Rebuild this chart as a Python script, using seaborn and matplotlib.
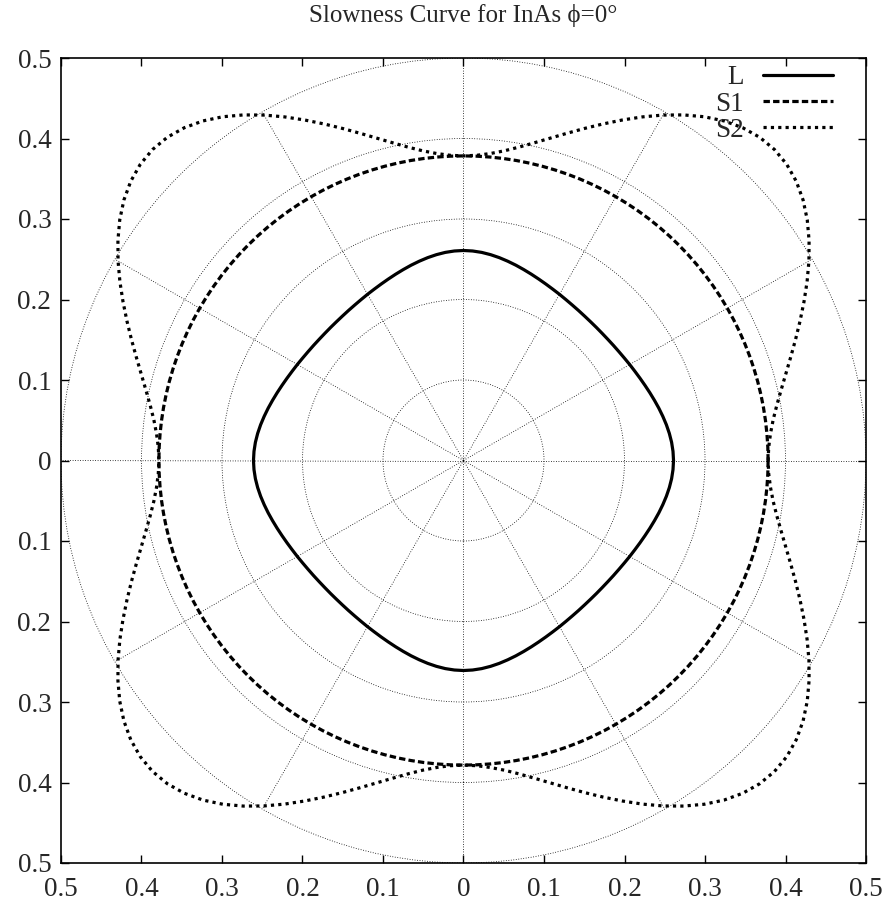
import numpy as np
import pandas as pd
import matplotlib
matplotlib.use("Agg")
import matplotlib.pyplot as plt
from matplotlib.patches import Circle
import seaborn as sns

# Propagation angle in the (001) plane over one octant, degrees
angle_deg = [0.0, 2.5, 5.0, 7.5, 10.0, 12.5, 15.0, 17.5, 20.0, 22.5,
             25.0, 27.5, 30.0, 32.5, 35.0, 37.5, 40.0, 42.5, 45.0]

# Slowness (s/km) of each mode over that octant
slowness_L = [0.2609, 0.2605, 0.2595, 0.2579, 0.2559, 0.2536, 0.2512,
              0.2487, 0.2463, 0.2440, 0.2419, 0.2400, 0.2384, 0.2369,
              0.2357, 0.2348, 0.2341, 0.2337, 0.2336]
slowness_S1 = [0.3784, 0.3784, 0.3784, 0.3784, 0.3784, 0.3784, 0.3784,
               0.3784, 0.3784, 0.3784, 0.3784, 0.3784, 0.3784, 0.3784,
               0.3784, 0.3784, 0.3784, 0.3784, 0.3784]
slowness_S2 = [0.3784, 0.3795, 0.3828, 0.3880, 0.3952, 0.4041, 0.4144,
               0.4261, 0.4389, 0.4525, 0.4667, 0.4812, 0.4955, 0.5090,
               0.5213, 0.5317, 0.5396, 0.5446, 0.5463]

mode_names = ["L", "S1", "S2"]

# Polar grid
grid_radii = [0.1, 0.2, 0.3, 0.4, 0.5]
spoke_angles = [0, 30, 60, 90, 120, 150, 180, 210, 240, 270, 300, 330]

tick_values = [-0.5, -0.4, -0.3, -0.2, -0.1, 0.0, 0.1, 0.2, 0.3, 0.4, 0.5]
tick_labels = ["0.5", "0.4", "0.3", "0.2", "0.1", "0",
               "0.1", "0.2", "0.3", "0.4", "0.5"]


def full_curve(r_octant):
    """Unfold one octant using the cubic (mirror + 90 deg) symmetry."""
    th = np.asarray(angle_deg)
    r = np.asarray(r_octant)
    th_q = np.concatenate([th, 90.0 - th[::-1][1:]])
    r_q = np.concatenate([r, r[::-1][1:]])
    th_full = np.concatenate([th_q[:-1] + 90.0 * k for k in range(4)] + [[360.0]])
    r_full = np.concatenate([r_q[:-1]] * 4 + [[r_q[0]]])
    t = np.deg2rad(th_full)
    return pd.DataFrame({"x": r_full * np.cos(t), "y": r_full * np.sin(t)})


sns.set_theme(style="white")
plt.rcParams["font.family"] = ["Liberation Serif", "DejaVu Serif"]

fig = plt.figure(figsize=(8.89, 9.08), dpi=100)
ax = fig.add_axes([61 / 889, 1 - 863 / 908, 805 / 889, 805 / 908])

grid_kw = dict(color="black", lw=0.6, linestyle=(0, (1, 2.0)), zorder=1)
for r in grid_radii:
    ax.add_patch(Circle((0, 0), r, fill=False, **grid_kw))
for a in spoke_angles:
    t = np.deg2rad(a)
    ax.plot([0, 0.5 * np.cos(t)], [0, 0.5 * np.sin(t)], **grid_kw)

styles = {
    "L": dict(linestyle="-"),
    "S1": dict(linestyle=(0, (2.0, 1.0))),
    "S2": dict(linestyle=(0, (1.0, 1.3))),
}
for name, vals in zip(mode_names, [slowness_L, slowness_S1, slowness_S2]):
    df = full_curve(vals)
    sns.lineplot(data=df, x="x", y="y", sort=False, estimator=None, ax=ax,
                 color="black", lw=2.3, label=name, zorder=3,
                 **styles[name])

ax.set_xlim(-0.5, 0.5)
ax.set_ylim(-0.5, 0.5)
ax.set_xticks(tick_values)
ax.set_xticklabels(tick_labels)
ax.set_yticks(tick_values)
ax.set_yticklabels(tick_labels)
ax.set_xlabel("")
ax.set_ylabel("")
ax.tick_params(axis="both", which="both", direction="in", length=6,
               width=1.0, color="black", labelsize=19.5, top=True, right=True,
               bottom=True, left=True)
ax.tick_params(axis="x", pad=10)
ax.tick_params(axis="y", pad=7)
for s in ax.spines.values():
    s.set_color("black")
    s.set_linewidth(1.2)

ax.set_title("Slowness Curve for InAs \u03d5=0\u00b0", fontsize=18, pad=26)

leg = ax.legend(loc="upper right", bbox_to_anchor=(0.959, 0.991),
                frameon=False, markerfirst=False, fontsize=19.5,
                handlelength=2.6, handletextpad=0.7, labelspacing=0.05,
                borderpad=0, borderaxespad=0)

fig.savefig("out.png", dpi=100)
